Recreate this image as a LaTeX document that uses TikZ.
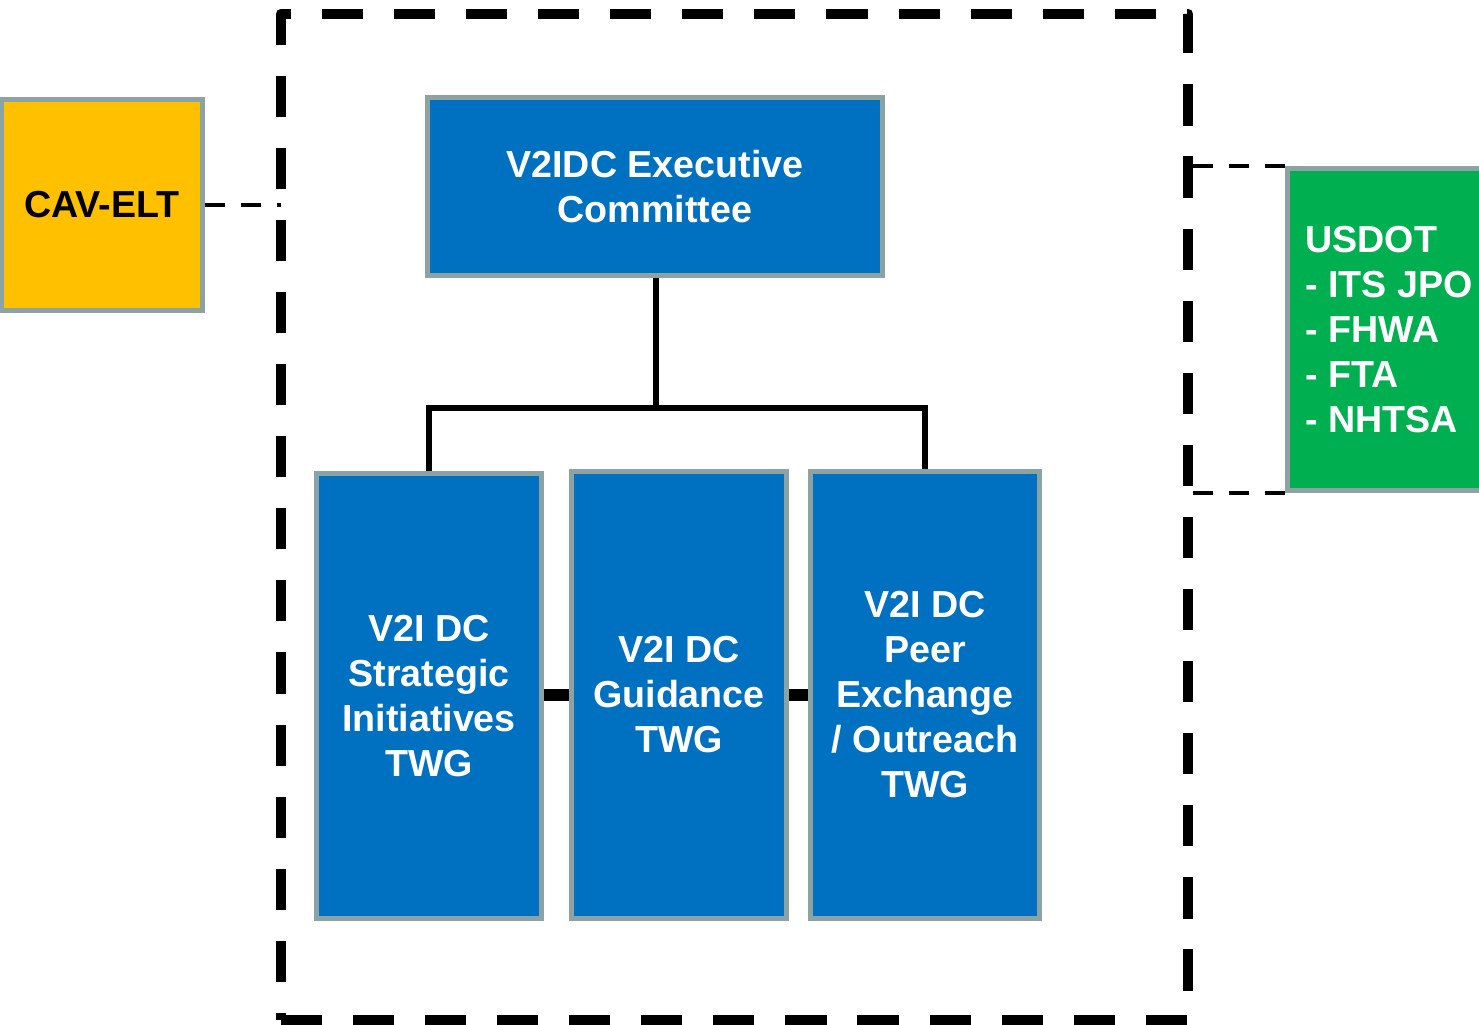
\documentclass[tikz,border=0pt]{standalone}
\usepackage{fontspec}
\setmainfont{Liberation Sans}
\usetikzlibrary{positioning}

\definecolor{boxblue}{HTML}{0070C0}
\definecolor{boxgold}{HTML}{FFC000}
\definecolor{boxgreen}{HTML}{00B050}
\definecolor{boxrim}{HTML}{8CA3A6}

\begin{document}
\begin{tikzpicture}[
        x=0.01cm, y=-0.01cm,
        every node/.style={font=\fontsize{10.7}{12.8}\selectfont\bfseries},
        unit/.style={draw=boxrim, line width=1.4pt, fill=boxblue, text=white,
            align=center, inner sep=0pt},
        frame/.style={draw, line width=2.85pt, dash pattern=on 11.7pt off 8.8pt,
            line join=round, inner sep=0pt, outer sep=0pt},
        tree/.style={line width=1.8pt},
        peer/.style={line width=3.2pt},
        liaison/.style={line width=1.15pt, dash pattern=on 5.7pt off 4.6pt}
    ]
        \useasboundingbox (0,0) rectangle (1479,1025);

        % Dashed frame round the V2I DC
        \node[frame, minimum width=9.07cm, minimum height=10.06cm] (frame) at (734.5,517) {};

        % Outside bodies
        \node[unit, fill=boxgreen, anchor=west, align=flush left, text width=2cm,
            inner xsep=0.18cm, minimum height=3.21cm]
            (usdot) at (1285,329.5) {USDOT\\- ITS JPO\\- FHWA\\- FTA\\- NHTSA};
        \node[unit, fill=boxgold, text=black, minimum width=2cm, minimum height=2.1cm]
            (cavelt) at (102,205) {CAV-ELT};

        % Executive committee and working groups
        \node[unit, minimum width=4.54cm, minimum height=1.77cm]
            (exec) at (655,186.5) {V2IDC Executive\\Committee};
        \node[unit, minimum width=2.24cm, minimum height=4.44cm]
            (twgsi) at (429,696) {V2I DC\\Strategic\\Initiatives\\TWG};
        \node[unit, minimum width=2.14cm, minimum height=4.46cm]
            (twggd) at (679,695) {V2I DC\\Guidance\\TWG};
        \node[unit, minimum width=2.28cm, minimum height=4.46cm]
            (twgpe) at (925,695) {V2I DC\\Peer\\Exchange\\/ Outreach\\TWG};

        % Reporting lines
        \coordinate (bus) at (656,408);
        \draw[tree] (exec.south -| bus) -- (bus);
        \draw[tree] (twgsi.north) |- (bus) -| (twgpe.north);

        % Links between working groups
        \draw[peer] (twgsi.east |- twggd) -- (twggd);
        \draw[peer] (twggd) -- (twgpe);

        % Liaison links
        \draw[liaison] (cavelt.east) -- (cavelt.east -| frame.west);
        \draw[liaison] (usdot.north west) -- (usdot.north west -| frame.east);
        \draw[liaison] (usdot.south west) -- (usdot.south west -| frame.east);

    \end{tikzpicture}
\end{document}
